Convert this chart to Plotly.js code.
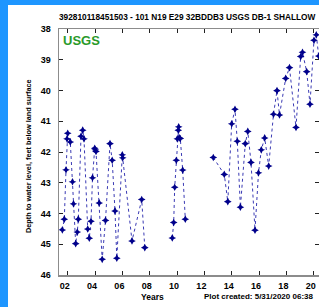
<!DOCTYPE html>
<html><head><meta charset="utf-8">
<script src="https://cdn.plot.ly/plotly-3.0.1.min.js"></script>
<style>
html,body{margin:0;padding:0;width:319px;height:307px;overflow:hidden;background:#1e96ff;}
#chart{position:absolute;left:8px;top:5px;width:311px;height:302px;background:#fff;}
</style></head>
<body><div id="chart"></div>
<script>
// decimal years of measurements (null = gap in record)
const years = [2001.605,2001.751,2001.876,2001.949,2002.0,2002.19,2002.351,2002.424,2002.585,2002.702,
  2002.776,2002.973,2003.098,2003.193,2003.463,2003.58,2003.705,2003.815,2003.976,2004.019,2004.071,
  2004.305,2004.524,2004.766,2005.095,2005.256,2005.461,2005.593,2005.995,2006.024,2006.705,2007.415,2007.641,
  null,
  2009.653,2009.756,2009.829,2009.946,2010.019,2010.092,2010.121,2010.165,2010.239,2010.414,2010.605,
  null,
  2012.653,2013.458,2013.714,2014.0,2014.241,2014.41,2014.636,2014.995,2015.178,2015.412,2015.705,
  2015.961,2016.166,2016.414,2016.707,2017.058,2017.315,2017.497,2017.951,2018.229,2018.705,2019.048,
  2019.18,2019.487,2019.729,2020.021,2020.19,2020.365];
// depth to water level, feet below land surface
const depth = [44.54,44.19,42.58,41.57,41.39,41.67,42.97,43.69,44.99,44.61,
  44.19,41.49,41.29,41.57,44.51,44.81,44.26,42.84,41.88,41.93,41.98,
  43.66,45.5,44.23,41.73,42.27,43.92,45.46,42.09,42.19,44.9,43.55,45.12,
  null,
  44.8,44.3,43.15,42.27,41.57,41.29,41.18,41.54,41.56,42.59,44.19,
  null,
  42.18,42.73,43.62,41.08,40.61,41.65,43.8,41.73,41.33,42.34,44.55,
  42.68,41.93,41.54,42.46,40.77,40.0,40.79,39.6,39.25,41.2,38.89,
  38.75,39.38,40.44,38.36,38.18,38.87];
const xTickVals = [2002,2004,2006,2008,2010,2012,2014,2016,2018,2020];
const xTickText = ['02','04','06','08','10','12','14','16','18','20'];
const yTickVals = [38,39,40,41,42,43,44,45,46];

const titleText = '392810118451503 - 101 N19 E29 32BDDB3 USGS DB-1 SHALLOW';
const yTitle = 'Depth to water level, feet below land surface';
const xTitle = 'Years';
const created = 'Plot created: 5/31/2020 06:38';

const FONT = 'Liberation Sans, Arial, sans-serif';
const trace = {
  x: years, y: depth, type: 'scatter', mode: 'lines+markers', connectgaps: false,
  line: {color: '#3a3ab4', width: 1, dash: 'dot'},
  marker: {symbol: 'star-diamond', size: 5.5, color: '#00008b'},
  hoverinfo: 'skip'
};
const axisCommon = {
  showgrid: false, zeroline: false, showline: true, linecolor: '#8c8c8c', linewidth: 1.5,
  mirror: 'ticks', ticks: 'inside', ticklen: 4, tickcolor: '#222', tickwidth: 1,
  tickfont: {family: FONT, size: 9, color: '#000', weight: 'bold'}
};
const layout = {
  width: 311, height: 302,
  margin: {l: 51, r: 0, t: 24, b: 32},
  paper_bgcolor: '#fff', plot_bgcolor: '#fff',
  showlegend: false,
  xaxis: Object.assign({}, axisCommon, {
    range: [2001.363, 2020.388], tickmode: 'array', tickvals: xTickVals, ticktext: xTickText,
    ticklabelshift: -3, ticklabelstandoff: 2
  }),
  yaxis: Object.assign({}, axisCommon, {
    range: [46.01, 37.99], tickmode: 'array', tickvals: yTickVals,
    ticklabelstandoff: 5
  }),
  annotations: [
    {text: titleText, xref: 'paper', yref: 'paper', x: -0.0077, y: 1.049, xanchor: 'left', yanchor: 'middle',
     showarrow: false, font: {family: FONT, size: 8.3, color: '#000', weight: 'bold'}},
    {text: 'USGS', xref: 'paper', yref: 'paper', x: 0.0077, y: 0.955, xanchor: 'left', yanchor: 'middle',
     showarrow: false, font: {family: FONT, size: 13, color: '#2a9a2a', weight: 'bold'}},
    {text: yTitle, xref: 'paper', yref: 'paper', x: -0.118, y: 0.485, xanchor: 'center', yanchor: 'middle',
     textangle: -90, showarrow: false, font: {family: FONT, size: 7.3, color: '#000', weight: 'bold'}},
    {text: xTitle, xref: 'paper', yref: 'paper', x: 0.3615, y: -0.089, xanchor: 'center', yanchor: 'middle',
     showarrow: false, font: {family: FONT, size: 8.5, color: '#000', weight: 'bold'}},
    {text: created, xref: 'paper', yref: 'paper', x: 0.55, y: -0.089, xanchor: 'left', yanchor: 'middle',
     showarrow: false, font: {family: FONT, size: 8, color: '#000', weight: 'bold'}}
  ]
};
Plotly.newPlot('chart', [trace], layout, {displayModeBar: false, staticPlot: true});
</script></body></html>
